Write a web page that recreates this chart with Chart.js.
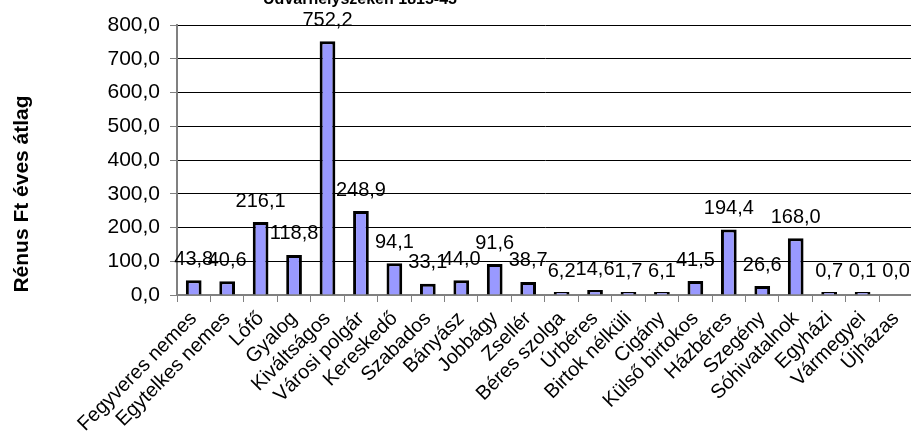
<!DOCTYPE html>
<html>
<head>
<meta charset="utf-8">
<script src="https://cdn.jsdelivr.net/npm/chart.js@4"></script>
<style>
  html, body { margin: 0; padding: 0; background: #fff; overflow: hidden; }
  #wrap { position: relative; width: 918px; height: 439px; }
</style>
</head>
<body>
<div id="wrap"><canvas id="chart"></canvas></div>
<script>
// categories and values
const categories = ['Fegyveres nemes', 'Egytelkes nemes', 'Lófő', 'Gyalog', 'Kiváltságos', 'Városi polgár',
  'Kereskedő', 'Szabados', 'Bányász', 'Jobbágy', 'Zsellér', 'Béres szolga', 'Úrbéres', 'Birtok nélküli',
  'Cigány', 'Külső birtokos', 'Házbéres', 'Szegény', 'Sóhivatalnok', 'Egyházi', 'Vármegyei', 'Újházas'];
const averages = [43.8, 40.6, 216.1, 118.8, 752.2, 248.9, 94.1, 33.1, 44.0, 91.6, 38.7, 6.2, 14.6, 1.7,
  6.1, 41.5, 194.4, 26.6, 168.0, 0.7, 0.1, 0.0];
const yTicks = [0, 100, 200, 300, 400, 500, 600, 700, 800];
const chartTitle = 'Udvarhelyszéken 1815-45';
const yTitle = 'Rénus Ft éves átlag';

const FONT = '"Liberation Sans", Arial, sans-serif';
const fmt = (v) => v.toFixed(1).replace('.', ','); // Hungarian decimal comma

// draws the value labels, the cut-off title and the rotated y title
const extras = {
  id: 'extras',
  afterDatasetsDraw(chart) {
    const ctx = chart.ctx;
    ctx.save();
    ctx.fillStyle = '#000';
    ctx.font = '20px ' + FONT;
    ctx.textAlign = 'center';
    ctx.textBaseline = 'middle';
    const zeroY = chart.scales.y.getPixelForValue(0);
    chart.getDatasetMeta(0).data.forEach((bar, i) => {
      const top = Math.min(bar.y, zeroY);
      ctx.fillText(fmt(averages[i]), bar.x, top - 21);
    });

    ctx.font = 'bold 16px ' + FONT;
    ctx.textBaseline = 'alphabetic';
    ctx.fillText(chartTitle, 360, 4);

    ctx.translate(22, 194);
    ctx.rotate(-Math.PI / 2);
    ctx.textBaseline = 'middle';
    ctx.font = 'bold 21px ' + FONT;
    ctx.fillText(yTitle, 0, 0);
    ctx.restore();
  }
};

new Chart(document.getElementById('chart'), {
  type: 'bar',
  data: {
    labels: categories,
    datasets: [{
      data: averages,
      backgroundColor: (c) => averages[c.dataIndex] === 0 ? 'rgba(0,0,0,0)' : '#9999ff',
      borderColor: (c) => averages[c.dataIndex] === 0 ? 'rgba(0,0,0,0)' : '#000',
      borderWidth: 3,
      borderSkipped: 'bottom',
      minBarLength: 3,
      barPercentage: 0.47,
      categoryPercentage: 1.0
    }]
  },
  options: {
    responsive: true,
    maintainAspectRatio: false,
    animation: false,
    layout: { padding: { top: 25, left: 0, right: 0, bottom: 0 } },
    plugins: {
      legend: { display: false },
      tooltip: { enabled: false }
    },
    scales: {
      x: {
        grid: { offset: true, drawOnChartArea: false, tickLength: 7, color: '#808080', lineWidth: 1 },
        border: { color: '#808080', width: 2 },
        ticks: {
          color: '#000',
          font: { family: FONT, size: 20 },
          minRotation: 45,
          maxRotation: 45,
          autoSkip: false,
          padding: 5
        },
        afterFit: (s) => { s.height = 144; }
      },
      y: {
        min: 0,
        max: 800,
        afterBuildTicks: (s) => { s.ticks = yTicks.map((v) => ({ value: v })); },
        grid: { color: '#000', lineWidth: 1, tickLength: 7, tickColor: '#808080' },
        border: { color: '#808080', width: 2 },
        ticks: {
          color: '#000',
          font: { family: FONT, size: 21 },
          padding: 10,
          callback: (v) => fmt(v)
        },
        afterFit: (s) => { s.width = 177; }
      }
    }
  },
  plugins: [extras]
});
</script>
</body>
</html>
